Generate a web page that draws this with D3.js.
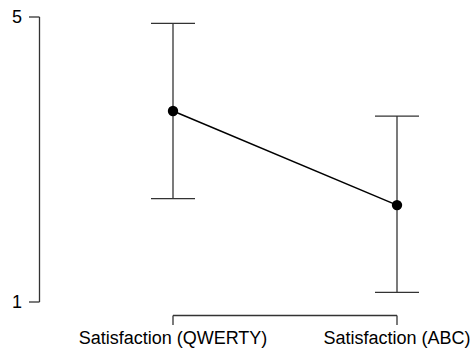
<!DOCTYPE html>
<html>
<head>
<meta charset="utf-8">
<script src="https://cdn.jsdelivr.net/npm/d3@7"></script>
<style>
  html, body { margin: 0; padding: 0; background: #fff; }
  svg { display: block; }
  text { font-family: "Liberation Sans", Arial, sans-serif; fill: #000; }
</style>
</head>
<body>
<svg id="chart" width="472" height="350"></svg>
<script>
const categories = ["Satisfaction (QWERTY)", "Satisfaction (ABC)"];
const means = [3.68, 2.36];
const lower = [2.45, 1.135];
const upper = [4.91, 3.61];
const yTicks = [1, 5];

const svg = d3.select("#chart");
const x = d3.scalePoint().domain(categories).range([173, 397]);
const y = d3.scaleLinear().domain([1, 5]).range([302, 17]);

const axisColor = "#333";

// Y axis
const yAxisX = 39.5;
svg.append("line")
  .attr("x1", yAxisX).attr("x2", yAxisX)
  .attr("y1", y(5)).attr("y2", y(1))
  .attr("stroke", axisColor).attr("stroke-width", 1.3);
yTicks.forEach(t => {
  svg.append("line")
    .attr("x1", 29).attr("x2", yAxisX)
    .attr("y1", y(t)).attr("y2", y(t))
    .attr("stroke", axisColor).attr("stroke-width", 1.3);
  svg.append("text")
    .attr("x", 22).attr("y", y(t))
    .attr("dy", "0.36em")
    .attr("text-anchor", "end")
    .attr("font-size", 18)
    .text(t);
});

// X axis
const xAxisY = 315.5;
svg.append("line")
  .attr("x1", x(categories[0])).attr("x2", x(categories[categories.length - 1]))
  .attr("y1", xAxisY).attr("y2", xAxisY)
  .attr("stroke", axisColor).attr("stroke-width", 1.3);
categories.forEach(c => {
  svg.append("line")
    .attr("x1", x(c)).attr("x2", x(c))
    .attr("y1", xAxisY).attr("y2", 325)
    .attr("stroke", axisColor).attr("stroke-width", 1.3);
  svg.append("text")
    .attr("x", x(c)).attr("y", 344)
    .attr("text-anchor", "middle")
    .attr("font-size", 18)
    .text(c);
});

// Error bars
const capHalf = 22;
categories.forEach((c, i) => {
  const g = svg.append("g").attr("stroke", axisColor).attr("stroke-width", 1.3);
  g.append("line").attr("x1", x(c)).attr("x2", x(c)).attr("y1", y(upper[i])).attr("y2", y(lower[i]));
  g.append("line").attr("x1", x(c) - capHalf).attr("x2", x(c) + capHalf).attr("y1", y(upper[i])).attr("y2", y(upper[i]));
  g.append("line").attr("x1", x(c) - capHalf).attr("x2", x(c) + capHalf).attr("y1", y(lower[i])).attr("y2", y(lower[i]));
});

// Connecting line
const line = d3.line().x((d, i) => x(categories[i])).y(d => y(d));
svg.append("path")
  .datum(means)
  .attr("d", line)
  .attr("fill", "none")
  .attr("stroke", "#000")
  .attr("stroke-width", 1.5);

// Points
svg.selectAll("circle.pt")
  .data(means)
  .enter().append("circle")
  .attr("class", "pt")
  .attr("cx", (d, i) => x(categories[i]))
  .attr("cy", d => y(d))
  .attr("r", 5.2)
  .attr("fill", "#000");
</script>
</body>
</html>
